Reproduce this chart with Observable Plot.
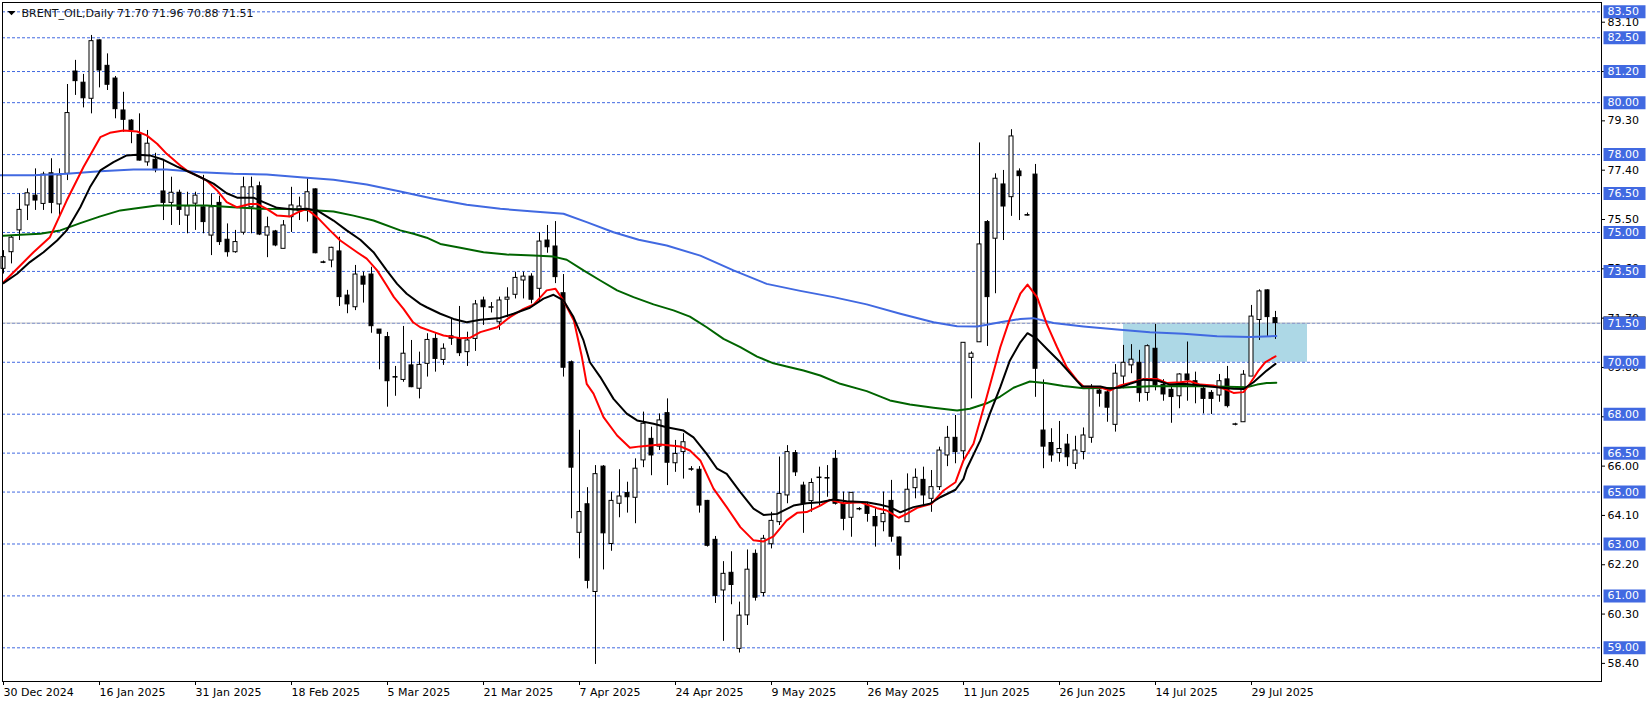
<!DOCTYPE html>
<html><head><meta charset="utf-8">
<script src="https://cdn.jsdelivr.net/npm/d3@7"></script>
<script src="https://cdn.jsdelivr.net/npm/@observablehq/plot@0.6"></script>
<style>
html,body{margin:0;padding:0;background:#fff;}
#chart{width:1651px;height:705px;}
</style></head><body><div id="chart"></div>
<script>
const symbolName = "BRENT_OIL";
const timeframe = "Daily";

const opens = [73.60,74.24,75.08,76.04,76.42,76.10,77.28,76.08,77.26,81.20,
80.77,80.15,82.40,81.42,80.93,79.70,79.31,78.76,77.70,77.80,
76.58,76.14,76.53,75.65,76.11,75.97,74.88,76.14,74.72,74.24,
74.99,75.97,76.78,74.88,75.04,74.37,75.59,75.82,75.85,76.66,
73.85,73.92,74.27,72.57,72.12,73.30,73.38,71.26,70.97,69.43,
69.32,69.88,68.98,69.94,70.90,70.09,71.00,70.90,70.39,70.90,
72.38,72.10,71.54,72.41,72.60,73.15,73.30,72.83,74.69,74.46,
72.66,70.00,63.43,64.53,61.15,65.98,63.00,64.55,64.96,64.78,
66.22,67.05,66.75,68.04,66.11,66.54,65.88,65.86,64.66,63.16,
61.21,61.89,58.96,60.25,62.62,61.11,62.99,63.84,64.87,66.50,
65.25,64.65,65.54,65.54,66.28,64.55,64.01,64.33,64.48,64.04,
63.84,64.66,63.25,63.84,65.15,65.47,64.74,65.19,66.41,67.09,
66.57,70.17,70.77,75.40,74.76,76.85,76.36,77.35,75.67,77.23,
67.37,66.89,66.50,66.83,66.09,66.54,67.09,68.91,68.84,67.59,
69.45,69.88,69.98,68.82,70.52,69.13,68.94,68.69,69.53,69.27,
68.98,68.82,68.72,69.34,67.59,67.69,69.45,71.63,72.77,71.70];

const highs = [74.30,74.88,76.49,76.68,77.45,77.32,77.84,77.45,80.70,81.63,
81.09,82.59,82.42,81.88,81.01,80.40,79.35,79.57,78.93,78.05,
77.77,77.13,76.63,76.55,76.55,77.20,76.49,76.40,75.33,75.08,
77.13,77.13,76.94,75.59,75.08,75.46,76.74,76.36,77.07,76.68,
73.90,74.43,74.82,72.77,73.73,73.47,73.66,71.26,71.15,69.84,
71.38,70.84,70.39,71.10,71.10,70.71,71.67,72.15,71.16,72.38,
72.51,72.30,72.51,72.87,73.47,73.47,73.41,74.99,75.27,75.42,
73.38,70.05,67.38,65.17,66.02,66.02,65.00,65.86,65.38,66.28,
68.08,67.50,68.01,68.59,66.99,67.25,65.98,65.98,64.68,63.29,
62.32,62.70,60.76,62.77,62.77,63.33,64.22,66.35,66.79,66.60,
65.38,65.51,65.96,66.02,66.60,65.00,64.97,64.40,64.61,64.36,
65.00,65.45,63.27,65.70,65.89,65.96,65.83,66.73,67.53,67.95,
70.76,70.40,78.45,75.46,77.26,77.39,78.96,77.45,75.75,77.62,
69.32,67.44,67.72,67.22,67.15,67.47,69.14,68.98,68.91,69.91,
70.65,70.68,70.46,70.67,71.46,69.33,69.04,69.56,70.78,69.62,
69.10,68.91,69.53,69.84,67.65,69.68,72.19,72.79,72.79,71.96];

const lows = [73.40,73.79,74.69,75.46,75.85,75.85,75.72,75.62,77.00,80.28,
79.80,79.57,80.57,80.47,79.38,78.86,78.42,77.75,77.55,77.30,
75.46,75.27,75.27,74.95,75.08,74.95,74.11,74.50,74.05,74.20,
74.90,74.95,74.88,74.03,74.45,74.37,75.00,75.46,75.40,74.18,
73.80,73.64,72.15,71.87,71.99,72.28,71.12,69.71,68.27,68.69,
69.23,69.02,68.59,69.43,69.62,69.88,70.65,70.22,69.84,70.42,
71.42,71.90,71.23,71.72,72.44,72.44,72.25,72.31,74.20,73.03,
69.43,63.97,62.43,61.27,58.36,62.00,62.72,64.01,64.19,63.78,
65.94,65.63,66.60,65.25,65.76,65.50,65.80,64.19,62.88,60.71,
59.25,60.66,58.80,59.86,60.80,60.96,62.81,63.71,64.55,65.60,
63.41,64.22,64.42,64.80,64.50,63.51,63.26,64.28,63.84,62.88,
63.47,63.07,62.00,63.84,64.74,64.42,64.22,65.06,65.98,66.09,
66.20,68.59,70.76,70.61,72.64,74.69,75.62,75.46,75.63,68.65,
65.90,66.15,66.15,65.98,65.87,66.24,66.88,68.27,67.69,67.31,
68.98,69.56,68.46,68.50,68.90,68.50,67.65,68.21,68.50,68.40,
68.01,67.99,68.46,68.24,67.55,67.69,69.45,70.84,70.97,70.88];

const closes = [74.05,74.80,75.87,76.51,76.23,77.23,76.14,77.20,79.60,80.83,
80.17,82.37,81.24,80.69,79.75,79.34,78.93,77.77,78.42,77.40,
76.14,76.53,75.87,76.01,76.42,75.40,75.97,74.63,74.24,74.63,
76.74,76.74,74.92,75.20,74.50,75.27,76.04,76.00,76.55,74.20,
73.83,74.41,72.51,72.23,73.38,72.99,71.39,71.10,69.27,69.41,
70.33,69.04,69.90,70.86,70.13,70.52,70.91,70.35,70.84,72.23,
72.12,72.12,72.38,72.49,73.25,73.30,72.41,74.65,74.43,73.28,
69.79,65.94,64.23,61.58,65.69,63.41,64.66,64.83,64.80,65.90,
67.63,66.41,67.76,66.13,66.47,66.92,65.86,64.48,62.93,61.00,
61.85,61.42,60.24,62.01,60.93,63.20,63.89,64.93,66.54,65.76,
64.55,65.35,65.56,65.52,64.55,63.97,64.97,64.35,64.16,63.68,
64.16,63.28,62.55,65.09,65.55,64.87,65.19,66.60,67.09,66.54,
70.75,70.33,74.54,72.51,77.07,76.00,78.70,77.17,75.65,69.75,
66.75,66.41,66.66,66.34,66.60,67.18,69.04,68.79,68.25,69.56,
69.98,70.10,68.81,70.62,69.11,68.76,68.66,69.53,69.30,69.07,
68.59,68.59,69.27,68.31,67.61,69.52,71.76,72.73,71.74,71.51];

// moving averages: [bar index, price]
const maRed = [[0,73.08],[2.1,73.73],[3.75,74.24],[5.8,74.82],[7.9,76.23],[10,77.52],[12.1,78.67],[13.3,78.84],[15,78.93],[16.7,78.89],[17.9,78.74],[19.2,78.42],[20.4,78.03],[22.1,77.58],[23.1,77.35],[24.6,77.13],[25.4,77.0],[26.7,76.62],[27.9,76.17],[29.2,75.97],[30.8,76.10],[31.7,76.10],[32.9,75.91],[34.2,75.65],[35.8,75.62],[37.1,75.82],[37.9,75.91],[39.2,75.59],[40.8,75.08],[42.1,74.69],[44.2,74.24],[45.4,73.99],[46.7,73.54],[47.9,72.96],[48.8,72.51],[50,72.06],[51.2,71.54],[52.1,71.35],[53.8,71.16],[55,71.03],[57.1,70.93],[58.3,70.94],[59.6,71.16],[61.7,71.35],[63.3,71.74],[65,72.06],[66.3,72.23],[67.9,72.77],[69,72.83],[70,72.38],[71.3,71.61],[72.3,70.20],[72.9,69.17],[73.75,68.79],[75,67.89],[76.7,67.18],[78.3,66.71],[79.6,66.76],[82.1,66.83],[84.6,66.76],[85.8,66.60],[87.1,66.22],[88.75,65.13],[90.4,64.42],[92.1,63.65],[93.75,63.14],[95,63.10],[96.25,63.29],[97.9,63.91],[99.2,64.20],[100.4,64.23],[102.1,64.48],[103.3,64.70],[105,64.57],[107.1,64.61],[109.2,64.38],[110.4,64.29],[111.9,64.01],[112.9,64.16],[114.2,64.39],[116,64.55],[117.5,65.06],[119,65.38],[120,66.22],[121.25,66.86],[122.9,68.66],[124.6,70.58],[125.8,71.68],[127.1,72.64],[128,72.99],[129.2,72.51],[130.4,71.48],[131.7,70.58],[132.9,69.81],[134.2,69.30],[135,69.07],[137.1,69.04],[138.3,68.91],[139.6,69.11],[140.8,69.20],[142.5,69.36],[144.2,69.36],[145.4,69.20],[147.1,69.23],[148.3,69.27],[149.6,69.14],[151.25,69.11],[152.9,68.94],[153.75,68.82],[155,68.85],[155.8,69.17],[156.9,69.69],[157.7,70.0],[159,70.23]];

const maBlack = [[0,73.05],[1.7,73.41],[3.3,73.86],[5,74.24],[6.7,74.69],[7.9,75.08],[9.6,75.97],[10.8,76.74],[12.1,77.39],[13.75,77.71],[15.4,77.97],[16.7,77.99],[18.3,77.97],[20,77.80],[21.7,77.54],[23.3,77.32],[25,77.07],[26.25,76.88],[27.9,76.51],[29.2,76.34],[31.25,76.34],[32.5,76.17],[34.2,75.95],[36.25,75.89],[37.9,75.91],[39.2,75.85],[41.25,75.46],[42.9,75.08],[44.6,74.72],[46.25,74.24],[47.9,73.54],[49.2,73.02],[50.4,72.64],[52.1,72.25],[52.9,72.12],[54.6,71.87],[56.25,71.67],[57.9,71.54],[59.6,71.64],[62.1,71.71],[63.75,71.87],[65.8,72.10],[67.5,72.45],[68.75,72.60],[70,72.38],[71.25,71.74],[72.5,70.84],[73.3,70.00],[74.6,69.43],[76.25,68.59],[77.9,68.02],[79.2,67.76],[81.25,67.63],[82.9,67.50],[85,67.37],[86.25,67.11],[87.9,66.47],[89.2,65.90],[90.4,65.70],[92.1,65.0],[93.75,64.36],[95,64.12],[96.7,64.16],[98.75,64.48],[100.4,64.57],[102.1,64.61],[103.75,64.71],[105.4,64.65],[107.9,64.61],[109.6,64.51],[110.8,64.42],[112.1,64.22],[113.75,64.42],[115.8,64.55],[117.1,64.80],[119,65.09],[120,65.51],[120.4,65.90],[122.1,66.99],[123.3,68.02],[124.6,69.04],[125.8,70.07],[127.1,70.77],[128,71.12],[129.2,70.90],[130.4,70.52],[132.1,70.00],[133.75,69.43],[134.8,69.07],[137.1,69.07],[138.3,68.98],[139.6,69.04],[140.8,69.17],[142.5,69.33],[144.2,69.30],[145.8,69.14],[147.5,69.17],[149.6,69.11],[151.7,69.04],[153.75,68.98],[155,68.97],[156.25,69.23],[157.9,69.68],[159,69.94]];

const maGreen = [[0,74.87],[2.1,74.91],[4.6,74.95],[7.1,75.08],[9.6,75.36],[12.1,75.62],[14.6,75.85],[17.1,75.95],[19.2,76.04],[25.4,76.04],[28.75,75.97],[32.1,75.91],[35.4,75.90],[38.3,75.87],[41.25,75.81],[43.75,75.65],[46.25,75.46],[49.6,75.08],[51.25,74.95],[52.9,74.80],[54.6,74.56],[57.1,74.41],[60,74.24],[62.9,74.15],[66.25,74.11],[68.75,74.07],[70.4,73.95],[72.5,73.54],[74.6,73.15],[76.7,72.77],[78.75,72.51],[81.25,72.23],[83.75,72.0],[85.8,71.76],[87.9,71.35],[90,70.90],[92.1,70.58],[94.2,70.22],[96.25,69.96],[97.9,69.84],[100,69.68],[102.1,69.49],[104.6,69.17],[107.9,68.89],[110.8,68.53],[113.3,68.37],[116.25,68.25],[119.2,68.14],[120.8,68.21],[122.9,68.42],[124.6,68.68],[126.25,69.02],[128.3,69.26],[130.4,69.19],[132.5,69.09],[135,69.0],[139.2,69.02],[143.3,69.08],[147.5,69.09],[151.7,69.07],[155.4,69.04],[156.7,69.14],[157.9,69.20],[159.1,69.21]];

const maBlue = [[-0.4,77.20],[3.75,77.20],[7.9,77.26],[12.1,77.36],[16.25,77.43],[20.4,77.43],[24.6,77.32],[28.75,77.26],[32.9,77.23],[37.1,77.13],[41.25,77.03],[45.4,76.85],[49.6,76.58],[53.75,76.30],[57.9,76.07],[62.1,75.91],[66.25,75.81],[70,75.72],[72.9,75.40],[76.25,75.01],[79.4,74.72],[82.9,74.50],[87.1,74.11],[91.25,73.54],[95.4,73.02],[99.6,72.75],[103.75,72.51],[107.9,72.23],[112.1,71.87],[116.25,71.54],[119.2,71.39],[121.7,71.38],[124.6,71.54],[127.1,71.67],[128.75,71.70],[131.25,71.51],[135,71.38],[139.2,71.26],[143.3,71.16],[147.5,71.10],[151.7,71.0],[155.8,70.97],[159.1,71.01]];

const levels = [83.5, 82.5, 81.2, 80.0, 78.0, 76.5, 75.0, 73.5, 71.5, 70.0, 68.0, 66.5, 65.0, 63.0, 61.0, 59.0];
const priceTicks = [58.4, 60.3, 62.2, 64.1, 66.0, 67.9, 69.8, 71.7, 73.6, 75.5, 77.4, 79.3, 81.2, 83.1];
const dateTickBars = [0, 12, 24, 36, 48, 60, 72, 84, 96, 108, 120, 132, 144, 156];
const dateTickLabels = ["30 Dec 2024","16 Jan 2025","31 Jan 2025","18 Feb 2025","5 Mar 2025","21 Mar 2025","7 Apr 2025","24 Apr 2025","9 May 2025","26 May 2025","11 Jun 2025","26 Jun 2025","14 Jul 2025","29 Jul 2025"];

const zoneBars = [140, 163];
const zonePrices = [70.0, 71.5];

// ---- build ----
const candles = opens.map((o, i) => ({i, open: o, high: highs[i], low: lows[i], close: closes[i]}));
const last = candles[candles.length - 1];
const fmt = d => d.toFixed(2);
const title = `${symbolName},${timeframe} ${fmt(last.open)} ${fmt(last.high)} ${fmt(last.low)} ${fmt(last.close)}`;
const zone = [{x1: zoneBars[0], x2: zoneBars[1], y1: zonePrices[0], y2: zonePrices[1]}];

const labelBox = {draw(ctx) { ctx.rect(-21, -6.5, 42, 13); }};
const triDown = {draw(ctx) { ctx.moveTo(-4, -2.5); ctx.lineTo(4, -2.5); ctx.lineTo(0, 1.8); ctx.closePath(); }};
const royal = "#4169E1";
const ma = (data, color) => Plot.line(data, {x: d => d[0], y: d => d[1], stroke: color, strokeWidth: 2});

const bodyY1 = d => Math.min(d.open, d.close);
const bodyY2 = d => Math.max(d.open, d.close, Math.min(d.open, d.close) + 0.02);

const chart = Plot.plot({
  width: 1651, height: 705,
  marginLeft: 2, marginRight: 50, marginTop: 2, marginBottom: 24,
  style: {fontFamily: "DejaVu Sans", fontSize: "11px", background: "white", color: "black"},
  x: {domain: [-0.125, 199.75], label: null},
  y: {domain: [57.7027, 83.8594], label: null},
  marks: [
    Plot.rect(zone, {x1: "x1", x2: "x2", y1: "y1", y2: "y2", fill: "#ADD8E6"}),
    Plot.ruleY(levels, {stroke: royal, strokeDasharray: "3,2"}),
    Plot.ruleY([last.close], {stroke: "#C0C0C0"}),
    Plot.ruleX(candles, {x: "i", y1: "low", y2: "high", stroke: "black"}),
    Plot.rect(candles.filter(d => d.close >= d.open), {x1: d => d.i - 0.5, x2: d => d.i + 0.5, insetLeft: 2, insetRight: 2, y1: bodyY1, y2: bodyY2, fill: "white", stroke: "black"}),
    Plot.rect(candles.filter(d => d.close < d.open), {x1: d => d.i - 0.5, x2: d => d.i + 0.5, insetLeft: 2, insetRight: 2, y1: bodyY1, y2: bodyY2, fill: "black", stroke: "black"}),
    ma(maBlue, royal),
    ma(maGreen, "#006400"),
    ma(maRed, "#FF0000"),
    ma(maBlack, "#000000"),
    Plot.frame({stroke: "black"}),
    Plot.axisX(dateTickBars, {tickFormat: d => dateTickLabels[dateTickBars.indexOf(d)], textAnchor: "start", tickSize: 4, tickPadding: 3, label: null, fontSize: 11}),
    Plot.axisY(priceTicks, {anchor: "right", tickFormat: fmt, tickSize: 3, tickPadding: 3, label: null, fontSize: 11}),
    Plot.dot([last.close], {y: d => d, frameAnchor: "right", dx: 23, symbol: labelBox, fill: "black", stroke: "none"}),
    Plot.dot(levels, {y: d => d, frameAnchor: "right", dx: 23, symbol: labelBox, fill: royal, stroke: "none"}),
    Plot.text(levels, {y: d => d, text: fmt, frameAnchor: "right", dx: 6, textAnchor: "start", fill: "white", fontSize: 11}),
    Plot.dot([0], {frameAnchor: "top-left", dx: 9, dy: 11, symbol: triDown, fill: "black", stroke: "none"}),
    Plot.text([title], {text: d => d, frameAnchor: "top-left", dx: 19, dy: 7, lineAnchor: "top", textAnchor: "start", fill: "#111111", fontSize: 11})
  ]
});
document.getElementById("chart").appendChild(chart);
</script>
</body></html>
